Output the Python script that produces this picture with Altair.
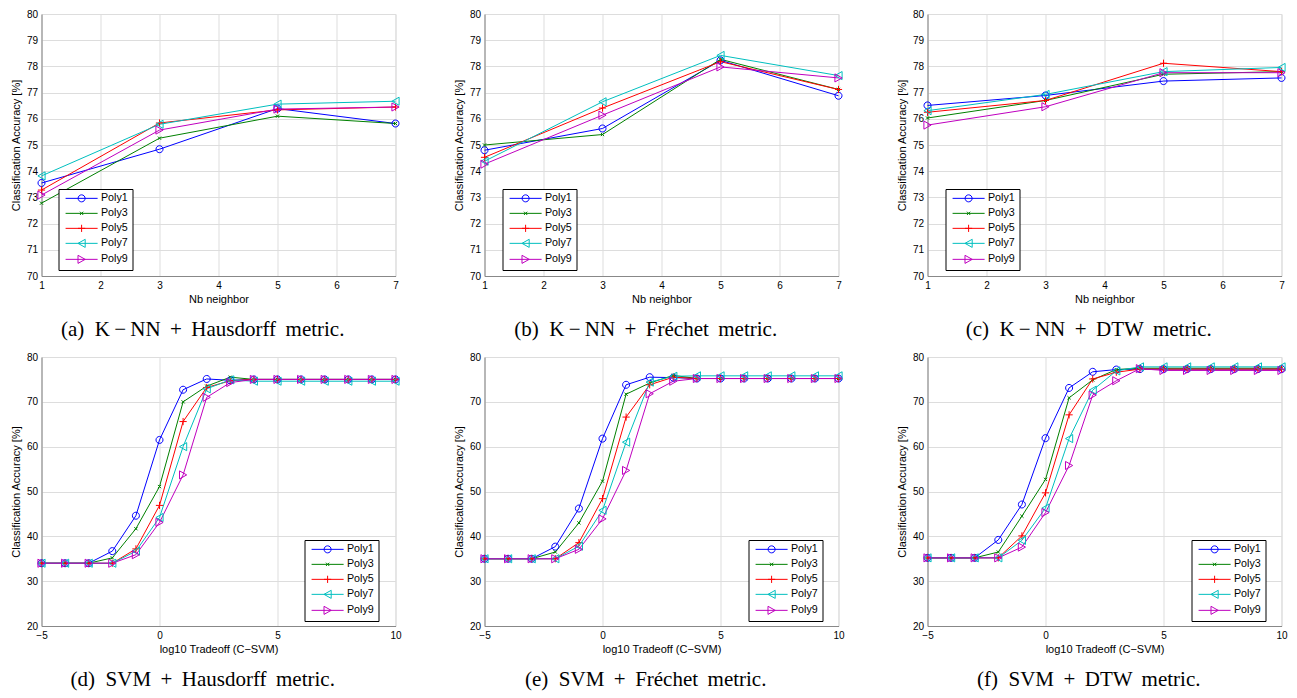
import altair as alt
import pandas as pd

series = ["Poly1", "Poly3", "Poly5", "Poly7", "Poly9"]
colors = ["#0000ff", "#008000", "#ff0000", "#00bfbf", "#bf00bf"]

# ---- K-NN panels (x = number of neighbours) ----
knn_x = [1, 3, 5, 7]
knn_haus = {
    "Poly1": [73.55, 74.84, 76.39, 75.82],
    "Poly3": [72.78, 75.26, 76.10, 75.82],
    "Poly5": [73.28, 75.84, 76.34, 76.45],
    "Poly7": [73.82, 75.79, 76.56, 76.67],
    "Poly9": [73.09, 75.57, 76.37, 76.45],
}
knn_frechet = {
    "Poly1": [74.80, 75.63, 78.23, 76.88],
    "Poly3": [75.00, 75.40, 78.27, 77.12],
    "Poly5": [74.53, 76.41, 78.18, 77.12],
    "Poly7": [74.38, 76.65, 78.42, 77.65],
    "Poly9": [74.27, 76.14, 77.98, 77.56],
}
knn_dtw = {
    "Poly1": [76.51, 76.89, 77.44, 77.56],
    "Poly3": [76.03, 76.70, 77.70, 77.80],
    "Poly5": [76.25, 76.70, 78.12, 77.80],
    "Poly7": [76.31, 76.93, 77.80, 77.96],
    "Poly9": [75.76, 76.46, 77.76, 77.76],
}

# ---- SVM panels (x = log10 tradeoff C) ----
svm_x = [-5, -4, -3, -2, -1, 0, 1, 2, 3, 4, 5, 6, 7, 8, 9, 10]
svm_haus = {
    "Poly1": [34.0, 34.0, 34.0, 36.7, 44.6, 61.5, 72.7, 75.1, 74.8, 75.0, 75.0, 75.0, 75.0, 75.0, 75.0, 75.0],
    "Poly3": [34.0, 34.0, 34.0, 35.2, 41.7, 51.1, 70.0, 73.5, 75.5, 75.0, 75.0, 75.0, 75.0, 75.0, 75.0, 75.0],
    "Poly5": [34.0, 34.0, 34.0, 34.0, 37.2, 46.9, 65.6, 73.2, 74.7, 75.0, 75.0, 75.0, 75.0, 75.0, 75.0, 75.0],
    "Poly7": [34.0, 34.0, 34.0, 34.0, 36.7, 44.2, 60.0, 72.9, 74.9, 74.6, 74.6, 74.6, 74.6, 74.6, 74.6, 74.6],
    "Poly9": [34.0, 34.0, 34.0, 34.0, 35.9, 43.1, 53.7, 71.0, 74.3, 75.0, 75.0, 75.0, 75.0, 75.0, 75.0, 75.0],
}
svm_frechet = {
    "Poly1": [35.0, 35.0, 35.0, 37.7, 46.2, 61.8, 73.8, 75.5, 75.4, 75.2, 75.2, 75.2, 75.2, 75.2, 75.2, 75.2],
    "Poly3": [35.0, 35.0, 35.0, 36.5, 43.0, 52.3, 71.7, 74.2, 75.9, 75.2, 75.2, 75.2, 75.2, 75.2, 75.2, 75.2],
    "Poly5": [35.0, 35.0, 35.0, 35.0, 38.6, 48.4, 66.6, 73.8, 75.5, 75.2, 75.2, 75.2, 75.2, 75.2, 75.2, 75.2],
    "Poly7": [35.0, 35.0, 35.0, 35.0, 37.8, 45.8, 61.0, 74.4, 75.7, 75.8, 75.8, 75.8, 75.8, 75.8, 75.8, 75.8],
    "Poly9": [35.0, 35.0, 35.0, 35.0, 37.1, 43.9, 54.7, 71.8, 74.6, 75.2, 75.2, 75.2, 75.2, 75.2, 75.2, 75.2],
}
svm_dtw = {
    "Poly1": [35.2, 35.2, 35.2, 39.2, 47.1, 61.9, 73.1, 76.7, 77.2, 77.3, 77.3, 77.3, 77.3, 77.3, 77.3, 77.3],
    "Poly3": [35.2, 35.2, 35.2, 36.5, 44.5, 52.7, 70.9, 74.9, 77.2, 77.5, 77.5, 77.5, 77.5, 77.5, 77.5, 77.5],
    "Poly5": [35.2, 35.2, 35.2, 35.2, 40.1, 49.7, 67.1, 75.1, 76.6, 77.3, 77.3, 77.3, 77.3, 77.3, 77.3, 77.3],
    "Poly7": [35.2, 35.2, 35.2, 35.2, 39.1, 46.3, 61.8, 72.6, 76.9, 77.8, 77.8, 77.8, 77.8, 77.8, 77.8, 77.8],
    "Poly9": [35.2, 35.2, 35.2, 35.2, 37.6, 45.3, 55.8, 71.5, 74.7, 77.4, 77.0, 77.0, 77.0, 77.0, 77.0, 77.0],
}

knn_xticks = [1, 2, 3, 4, 5, 6, 7]
knn_yticks = [70, 71, 72, 73, 74, 75, 76, 77, 78, 79, 80]
svm_xticks = [-5, 0, 5, 10]
svm_yticks = [20, 30, 40, 50, 60, 70, 80]

SP = " \u2009"
captions = [
    "(a)\u2002K\u2009\u2212\u2009NN" + SP + "+" + SP + "Hausdorff" + SP + "metric.",
    "(b)\u2002K\u2009\u2212\u2009NN" + SP + "+" + SP + "Fréchet" + SP + "metric.",
    "(c)\u2002K\u2009\u2212\u2009NN" + SP + "+" + SP + "DTW" + SP + "metric.",
    "(d)\u2002SVM" + SP + "+" + SP + "Hausdorff" + SP + "metric.",
    "(e)\u2002SVM" + SP + "+" + SP + "Fréchet" + SP + "metric.",
    "(f)\u2002SVM" + SP + "+" + SP + "DTW" + SP + "metric.",
]

# marker glyphs (unit square -1..1 scaled by sqrt(size)/2)
m_circle = "M-0.78,0A0.78,0.78 0 1,1 0.78,0A0.78,0.78 0 1,1 -0.78,0Z"
m_x = "M-0.36,-0.36L0.36,0.36M-0.36,0.36L0.36,-0.36"
m_plus = "M-0.8,0L0.8,0M0,-0.8L0,0.8"
m_tl = "M0.8,-0.9L-0.8,0L0.8,0.9Z"
m_tr = "M-0.8,-0.9L0.8,0L-0.8,0.9Z"
markers = [m_circle, m_x, m_plus, m_tl, m_tr]
seg = "M-3.56,0L3.56,0"
legend_glyphs = [seg + m for m in markers]

FONT = "Liberation Sans"
FS = 10.7


def to_df(xs, d):
    rows = []
    for s in series:
        for xv, yv in zip(xs, d[s]):
            rows.append({"x": xv, "y": yv, "series": s})
    return pd.DataFrame(rows)


def panel(xs, d, xdom, xticks, ydom, yticks, xtitle, caption, legx, legy, h):
    df = to_df(xs, d)
    base = alt.Chart(df)
    x = alt.X("x:Q", scale=alt.Scale(domain=xdom, nice=False, zero=False),
              axis=alt.Axis(values=xticks, title=xtitle, format="d", labelFlush=False,
                            labelOverlap=False, titlePadding=3, titleFontWeight="normal",
                            labelPadding=4, ticks=False, tickSize=0))
    y = alt.Y("y:Q", scale=alt.Scale(domain=ydom, nice=False, zero=False),
              axis=alt.Axis(values=yticks, title="Classification Accuracy [%]", format="d",
                            labelFlush=False, labelOverlap=False, titlePadding=5,
                            titleFontWeight="normal", labelPadding=4, ticks=False, tickSize=0))
    cscale = alt.Scale(domain=series, range=colors)
    lines = base.mark_line(strokeWidth=1).encode(
        x=x, y=y, color=alt.Color("series:N", scale=cscale, legend=None))
    pts = base.mark_point(filled=False, size=81, strokeWidth=1, opacity=1).encode(
        x=x, y=y,
        color=alt.Color("series:N", scale=cscale, legend=None),
        shape=alt.Shape("series:N", scale=alt.Scale(domain=series, range=markers), legend=None))
    leg = alt.Legend(orient="none", legendX=legx, legendY=legy, title=None, direction="vertical",
                     strokeColor="black", fillColor="white", padding=4, symbolSize=81,
                     symbolStrokeWidth=1, symbolOffset=13.75, labelOffset=14, rowPadding=3,
                     labelFont=FONT, labelFontSize=FS, labelColor="black", symbolOpacity=1)
    legl = base.transform_filter("datum.y < 0").mark_point(
        filled=False, size=81, strokeWidth=1).encode(
        x=x, y=y,
        color=alt.Color("series:N", scale=cscale, legend=leg),
        shape=alt.Shape("series:N", scale=alt.Scale(domain=series, range=legend_glyphs), legend=leg))
    return alt.layer(lines, pts, legl).resolve_scale(
        color="independent", shape="independent").properties(
        width=354, height=h,
        title=alt.TitleParams(text=caption, orient="bottom", anchor="middle", frame="bounds",
                              offset=15, dx=-3, font="Liberation Serif", fontSize=21,
                              fontWeight="normal", color="black"))


H1, H2 = 262, 269
XT_K = "Nb neighbor"
XT_S = "log10 Tradeoff (C\u2212SVM)"
panels = [
    panel(knn_x, knn_haus, [1, 7], knn_xticks, [70, 80], knn_yticks, XT_K, captions[0], 17, H1 - 87, H1),
    panel(knn_x, knn_frechet, [1, 7], knn_xticks, [70, 80], knn_yticks, XT_K, captions[1], 18, H1 - 87, H1),
    panel(knn_x, knn_dtw, [1, 7], knn_xticks, [70, 80], knn_yticks, XT_K, captions[2], 18, H1 - 87, H1),
    panel(svm_x, svm_haus, [-5, 10], svm_xticks, [20, 80], svm_yticks, XT_S, captions[3], 263, H2 - 86, H2),
    panel(svm_x, svm_frechet, [-5, 10], svm_xticks, [20, 80], svm_yticks, XT_S, captions[4], 264, H2 - 86, H2),
    panel(svm_x, svm_dtw, [-5, 10], svm_xticks, [20, 80], svm_yticks, XT_S, captions[5], 264, H2 - 86, H2),
]

chart = alt.concat(*panels, columns=3, spacing={"row": 81, "column": 89}, bounds="flush").resolve_scale(
    color="independent", shape="independent"
).properties(
    padding={"left": 1.5, "top": 0, "right": 0, "bottom": 0}
).configure_view(
    stroke="black", strokeWidth=1
).configure_legend(
    strokeWidth=1.5
).configure_axis(
    domainColor="black", domainWidth=1,
    gridColor="#555555", gridDash=[1, 3], gridWidth=1, gridOpacity=0.8,
    labelFont=FONT, labelFontSize=FS, labelColor="black",
    titleFont=FONT, titleFontSize=FS, titleFontWeight="normal", titleColor="black",
    ticks=False, tickSize=0,
).configure(background="white")

chart.save("out.html", embed_options={"renderer": "svg", "actions": False})
